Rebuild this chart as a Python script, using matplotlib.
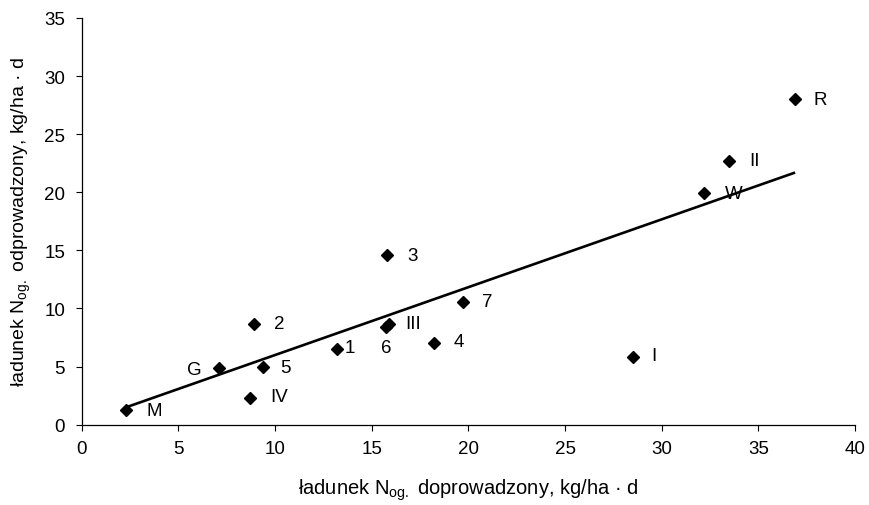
import matplotlib
matplotlib.use("Agg")
import matplotlib.pyplot as plt

plt.rcParams['font.family'] = ['Liberation Sans', 'DejaVu Sans']
plt.rcParams['mathtext.fontset'] = 'custom'
plt.rcParams['mathtext.rm'] = 'Liberation Sans'
plt.rcParams['mathtext.default'] = 'regular'

# data
labels = ['M', 'G', '2', 'IV', '5', '1', '6', 'III', '3', '4', '7', 'I', 'W', 'II', 'R']
x_in = [2.3, 7.1, 8.9, 8.7, 9.4, 13.2, 15.75, 15.9, 15.8, 18.2, 19.7, 28.5, 32.2, 33.5, 36.9]
y_out = [1.3, 4.9, 8.7, 2.3, 5.0, 6.5, 8.4, 8.7, 14.6, 7.05, 10.6, 5.8, 19.9, 22.7, 28.0]
trend_x = [2.3, 36.9]
trend_y = [1.5, 21.7]
xticks = [0, 5, 10, 15, 20, 25, 30, 35, 40]
yticks = [0, 5, 10, 15, 20, 25, 30, 35]

# label offsets (points)
offsets = [(20, -1), (-18, -1), (18, 0), (21, 1), (16, -1), (9, 1), (0, -15), (17, 0),
           (18, 0), (18, 1), (18, 0), (15, 1), (21, 0), (18, 0), (18, 0)]

fig = plt.figure(figsize=(8.69, 5.06), dpi=100)
ax = fig.add_axes([0.094, 0.1587, 0.890, 0.8038])

ax.plot(trend_x, trend_y, color='black', lw=1.9, solid_capstyle='butt', zorder=2)
ax.plot(x_in, y_out, linestyle='none', marker='D', markersize=6.5, color='black', zorder=3)

for lab, xv, yv, off in zip(labels, x_in, y_out, offsets):
    ax.annotate(lab, (xv, yv), xytext=off, textcoords='offset points',
                ha='center', va='center', fontsize=13.5)

ax.set_xlim(0, 40)
ax.set_ylim(0, 35)
ax.set_xticks(xticks)
ax.set_yticks(yticks)
ax.tick_params(direction='out', length=4, width=0.8, labelsize=13.5)
ax.tick_params(axis='y', pad=8)
ax.tick_params(axis='x', pad=7)
for s in ['top', 'right']:
    ax.spines[s].set_visible(False)
ax.spines['left'].set_linewidth(0.9)
ax.spines['bottom'].set_linewidth(0.9)

ax.set_xlabel('ładunek N$_{og.}$ doprowadzony, kg/ha · d', fontsize=14.5, labelpad=14)
ax.set_ylabel('ładunek N$_{og.}$ odprowadzony, kg/ha · d', fontsize=14, labelpad=8)

fig.savefig('out.png', dpi=100)
